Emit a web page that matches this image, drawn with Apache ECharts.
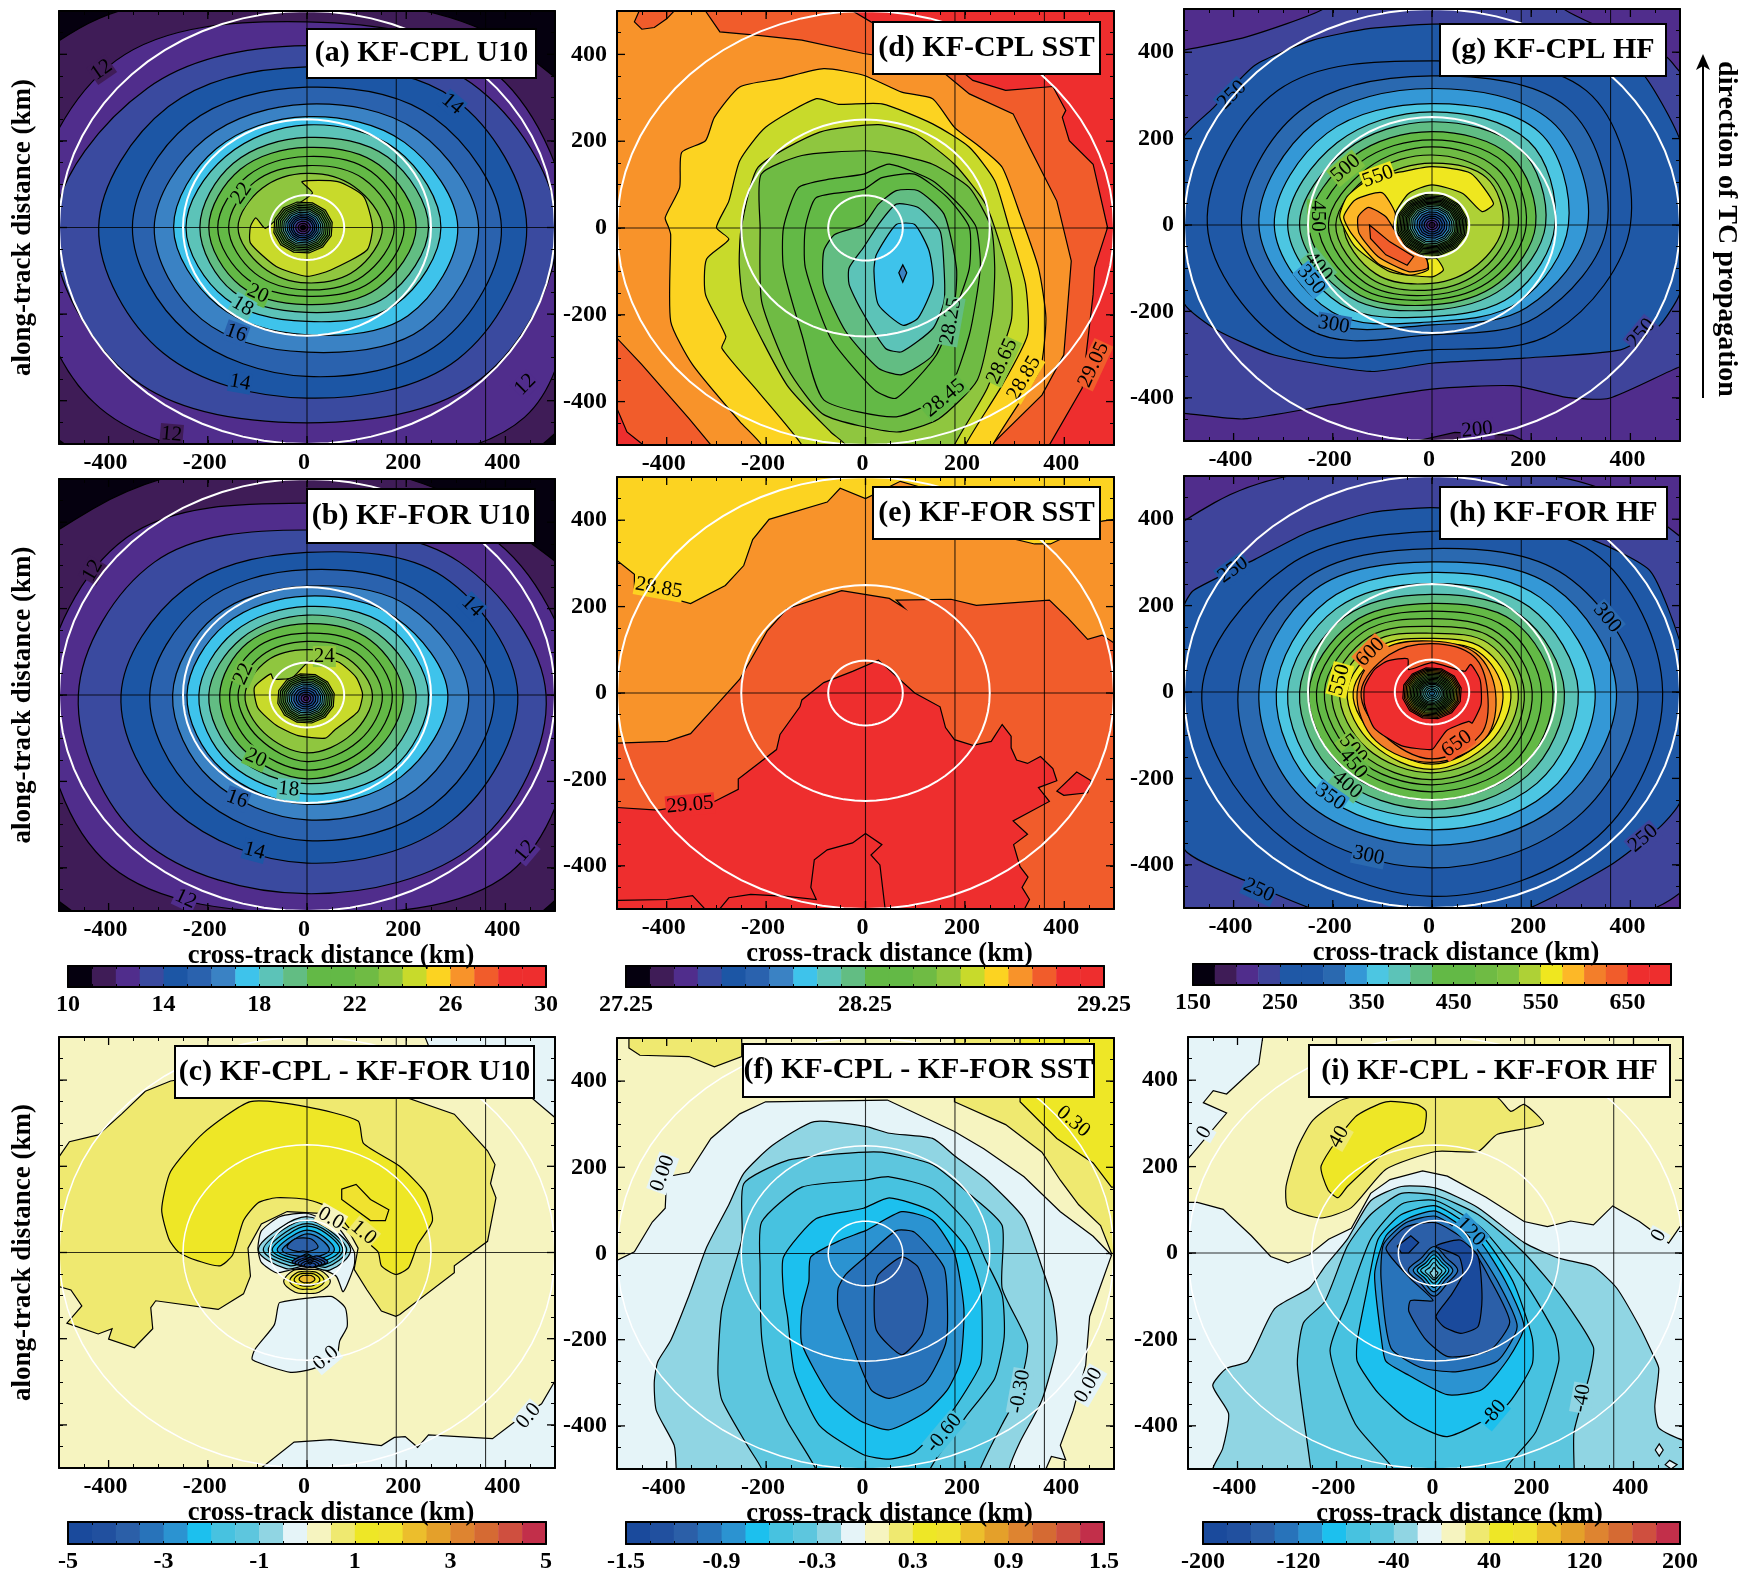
<!DOCTYPE html>
<html><head><meta charset="utf-8">
<style>html,body{margin:0;padding:0;background:#fff}#c{width:1743px;height:1579px}</style>
<script src="https://cdn.jsdelivr.net/npm/echarts@6/dist/echarts.min.js"></script>
</head><body><div id="c"></div>
<script>
// ---------- colour scales (one colour per colourbar band) ----------
const rainbow20 = ['#05000f','#3f1c57','#502d8c','#3a4a9f','#1c56a5','#2a62ae','#3a82c4','#3ec3eb','#5cc3b8','#62bd83','#63b946','#63b946','#6fbb44','#8fc63f','#c8da2b','#fcd321','#f8932a','#f15c2b','#ee2e2e','#ee2e2e'];
const rainbow22 = ['#05000f','#3f1c57','#502d8c','#3f449b','#1f58a6','#1f58a6','#2a69b0','#3498d6','#4cc6e2','#5cc3b8','#60bd84','#63b946','#63b946','#6fbb44','#7fc241','#aed136','#efe71f','#fdb827','#f37e2a','#f15c2b','#ee2e2e','#ee2e2e'];
const diverging20 = ['#1a4a9c','#21509f','#2b5fa8','#2873ba','#2b93d1','#1cc0ee','#47c2e0','#5dc6de','#90d5e3','#e5f4f8','#f6f4c0','#efe970','#eee726','#f0e22f','#ecbe2c','#e4a02a','#de8430','#d56a33','#cf4f3f','#c22f4a'];

// ---------- contour outlines (km) ----------
// ['r',band,cx,cy,E,NE,N,NW,W,SW,S,SE]  radii by direction, smooth
// ['c',band,cx,cy,radius]               near-circular ring
// ['p',band,x,y,x,y,...]                outline, lightly smoothed
// ['j',band,x,y,x,y,...]                outline, jagged
const contours_a = [
['j',0,-600,-600,600,-600,600,600,-600,600],
['r',1,0,0,700,590,530,650,800,700,700,690],
['r',2,0,0,530,520,475,545,560,590,540,620],
['r',3,0,0,505,470,420,455,510,495,451,495],
['r',4,0,0,443,420,371,395,420,410,394,430],
['r',5,0,0,392,360,324,338,352,342,344,378],
['r',6,0,0,346,315,285,290,308,300,288,330],
['r',7,0,0,304,278,256,258,269,254,248,288],
['r',8,0,0,270,255,237,232,244,232,217,252],
['r',9,0,0,245,230,208,210,216,210,196,226],
['r',10,0,0,220,205,185,190,198,190,178,200],
['r',11,0,0,196,183,164,169,180,169,159,180],
['r',12,0,0,176,160,143,149,158,149,144,159],
['r',13,0,0,152,134,125,128,139,128,128,139],
['p',14,-10,106,62,106,114,72,132,2,121,-52,48,-98,0,-113,-62,-90,-114,-36,-114,2,-103,22,-84,-2,-48,33,11,79],
['c',13,-8,0,60],['c',12,-8,0,56],['c',11,-8,0,52],['c',10,-8,0,48],['c',9,-8,0,44],['c',8,-8,0,40],['c',7,-8,0,36],['c',6,-8,0,32],['c',5,-8,0,28],['c',4,-8,0,24],['c',3,-8,0,20],['c',2,-8,0,15],['c',1,-8,0,10],['c',0,-8,0,5]
];
const labels_a = [['12',-414,364,35,1],['14',293,285,-40,4],['22',-132,79,55,11],['20',-99,-153,-25,10],['18',-130,-182,-30,8],['16',-143,-244,-20,5],['14',-135,-358,-10,4],['12',440,-363,45,2],['12',-273,-478,-5,1]];

const contours_b = [
['j',0,-600,-600,600,-600,600,600,-600,600],
['r',1,0,0,700,560,540,610,800,690,700,690],
['r',2,0,0,540,520,444,515,530,560,505,580],
['r',3,0,0,482,435,382,435,461,472,460,485],
['r',4,0,0,425,388,330,348,375,378,389,412],
['r',5,0,0,377,330,290,300,317,320,337,360],
['r',6,0,0,326,290,252,260,271,275,289,310],
['r',7,0,0,284,253,229,232,242,243,253,268],
['r',8,0,0,245,227,205,207,218,222,229,242],
['r',9,0,0,220,201,185,186,198,201,205,216],
['r',10,0,0,194,180,165,170,176,180,194,190],
['r',11,0,0,172,160,143,150,156,160,174,170],
['r',12,0,0,152,139,124,129,139,139,154,149],
['r',13,0,0,132,118,105,113,125,123,134,128],
['p',14,4,77,62,77,99,41,112,2,103,-38,55,-82,37,-100,-18,-94,-62,-70,-99,-30,-106,18,-73,49,-68,37,-30,40],
['c',13,-2,-8,58],['c',12,-2,-8,54],['c',11,-2,-8,50],['c',10,-2,-8,46],['c',9,-2,-8,42],['c',8,-2,-8,38],['c',7,-2,-8,34],['c',6,-2,-8,30],['c',5,-2,-8,25],['c',4,-2,-8,20],['c',3,-2,-8,15],['c',2,-2,-8,10],['c',1,-2,-8,5]
];
const labels_b = [['12',-432,288,60,1],['14',333,205,-45,4],['22',-128,49,65,12],['24',35,89,0,13],['20',-103,-146,-25,10],['18',-37,-218,-5,8],['16',-141,-241,-20,5],['14',-106,-361,-15,4],['12',440,-361,50,2],['12',-245,-472,-25,2]];

const contours_c = [
['j',10,-600,-600,600,-600,600,600,-600,600],
['j',9,-92,-500,-26,-440,48,-434,150,-448,176,-429,198,-427,223,-452,245,-423,374,-432,421,-391,473,-351,500,-298,540,-298,540,-540,-92,-540],
['j',9,238,500,245,480,350,420,454,358,500,313,540,313,540,540,238,540],
['p',9,-55,-116,48,-102,77,-128,81,-172,66,-205,59,-245,11,-270,-33,-278,-110,-249,-105,-225,-66,-168,-59,-128],
['j',11,-500,222,-479,257,-421,273,-374,321,-326,374,-275,398,-150,420,100,400,297,321,364,236,379,204,370,160,381,127,364,26,297,-31,297,-47,187,-144,179,-148,150,-136,121,-87,95,-39,103,10,84,50,26,91,-40,95,-92,66,-119,10,-114,-55,-128,-96,-179,-132,-305,-112,-315,-128,-311,-177,-348,-221,-400,-201,-393,-177,-421,-189,-484,-164,-454,-124,-476,-87,-500,-79,-540,-79,-540,222],
['p',12,-293,99,-275,188,-209,277,-114,350,0,338,103,305,114,253,187,200,238,139,253,74,223,18,205,-35,179,-51,150,-31,143,2,84,58,55,99,0,123,-62,127,-99,115,-128,74,-150,-6,-176,-31,-231,-15,-260,2,-278,30],
['j',13,70,147,99,158,128,123,165,99,158,74,128,74,70,123],
['p',9,-99,10,-92,50,-55,83,0,91,62,58,95,2,95,-31,73,-91,59,-55,20,-35,-30,-40,-62,-47,-92,-23],
['r',11,0,-68,47,38,28,38,47,34,27,34],
['r',12,0,-66,35,28,21,28,35,25,19,25],
['r',13,0,-64,26,20,15,20,26,18,14,18],
['r',14,0,-62,16,12,9,12,16,11,8,11],
['r',8,0,5,88,72,78,75,98,60,35,65],
['r',7,0,5,80,65,70,68,88,50,28,55],
['r',6,0,5,72,60,62,60,78,42,22,48],
['r',5,0,5,66,55,56,53,70,35,16,38],
['r',4,0,5,55,46,47,45,60,28,12,30],
['r',3,0,5,45,38,38,36,50,20,8,22],
['r',2,-8,12,30,26,22,26,32,14,8,14],
['r',1,6,-22,36,20,10,20,36,14,6,14],
['r',2,6,-24,30,16,8,16,30,12,5,12],
['r',1,6,-26,24,14,6,14,24,10,4,10],
['r',1,6,-28,18,11,4,11,18,8,3,8],
['r',1,6,-30,12,8,3,8,12,6,2,6]
];
const labels_c = [['0.0',48,79,-30,10],['1.0',114,46,-40,11],['0.0',38,-245,40,9],['0.0',447,-379,50,9]];

const contours_d = [
['j',18,-600,-600,600,-600,600,600,-600,600],
['j',17,-26,500,11,475,135,417,216,340,282,317,377,326,403,271,396,255,410,201,458,147,487,1,461,-92,458,-153,447,-261,436,-369,370,-500,370,-540,-420,-540,-447,-500,-480,-470,-500,-416,-540,-416,-540,540,-26,540],
['j',16,-322,500,-293,452,-216,444,-128,433,-4,402,135,379,209,309,297,263,330,186,385,62,414,-76,399,-292,355,-385,253,-500,253,-540,-311,-540,-311,-500,-355,-439,-450,-315,-500,-254,-540,-254,-540,540,-322,540],
['j',17,-465,475,-450,458,-425,462,-400,482,-385,500,-440,540],
['p',15,-84,367,-4,352,73,313,135,298,179,232,231,186,275,140,311,32,348,-92,363,-207,352,-323,311,-400,256,-500,256,-530,-209,-530,-209,-500,-253,-446,-348,-315,-392,-215,-392,-15,-396,1,-403,24,-374,93,-370,174,-322,201,-304,255,-253,325,-172,344],
['p',14,-99,298,-55,285,33,286,135,240,209,186,260,109,289,1,322,-130,326,-246,275,-362,201,-500,201,-530,-128,-530,-128,-500,-216,-377,-289,-277,-281,-250,-322,-153,-320,-72,-275,-26,-300,1,-275,62,-253,155,-201,232],
['p',13,-216,140,-92,221,26,238,99,217,179,147,238,62,260,1,293,-130,293,-215,245,-369,179,-500,179,-530,-40,-530,-40,-500,-70,-470,-158,-362,-245,-169,-254,-84,-250,1],
['p',12,-212,1,-210,124,-128,167,-4,178,62,169,135,147,209,93,253,1,260,-92,255,-200,225,-350,147,-440,62,-470,-84,-430,-157,-323,-209,-169],
['p',11,-165,1,-135,93,-70,113,-4,124,48,147,135,109,194,47,223,1,231,-92,209,-246,165,-377,62,-435,-84,-396,-128,-246,-165,-92],
['p',10,-121,1,-99,70,-4,89,33,116,99,124,165,70,209,1,209,-92,187,-169,143,-292,62,-392,18,-373,-70,-254,-121,-92],
['p',9,-84,-53,-62,-15,-4,8,26,55,62,86,106,86,158,32,183,-92,179,-169,136,-292,73,-338,26,-323,-40,-238,-84,-130],
['p',8,-33,-92,-4,-45,26,8,62,55,106,47,150,-7,158,-92,158,-169,136,-231,73,-285,40,-277,-11,-184,-33,-130],
['p',7,22,-61,62,8,99,8,128,-53,136,-130,106,-207,75,-224,26,-177,17,-99],
['j',6,75,-85,83,-103,75,-125,67,-103]
];
const labels_d = [['28.25',172,-215,80,9],['28.45',159,-392,40,11],['28.65',275,-307,65,13],['28.85',319,-346,60,15],['29.05',459,-315,65,17]];

const contours_e = [
['j',17,-600,-600,600,-600,600,600,-600,600],
['j',16,-500,-116,-399,-112,-352,-94,-300,-28,-253,32,-198,143,-158,195,-48,237,48,219,77,198,62,215,172,217,223,203,370,215,407,174,447,124,476,134,500,116,540,116,540,540,-540,540,-540,-116],
['j',15,-500,307,-465,275,-465,243,-352,207,-282,249,-245,295,-227,355,-194,402,-77,442,-51,474,0,450,70,490,106,478,250,370,340,345,372,345,400,360,476,398,500,402,540,402,540,540,-540,540,-540,307],
['j',18,-500,-265,-418,-271,-304,-251,-256,-223,-256,-199,-179,-131,-172,-96,-132,-32,-128,-16,-84,24,-26,50,26,76,99,0,150,-32,161,-80,179,-108,216,-121,253,-112,275,-73,293,-100,293,-127,304,-155,326,-163,352,-147,377,-175,385,-203,348,-219,370,-251,297,-296,326,-327,298,-351,311,-402,327,-426,315,-450,330,-478,319,-502,319,-540,-540,-540,-540,-265],
['j',18,385,-227,425,-183,454,-203,447,-231,399,-237],
['j',19,-540,-480,-498,-480,-399,-478,-348,-469,-319,-505,-297,-505,-275,-474,-231,-466,-158,-471,-99,-478,-110,-450,-103,-386,-77,-363,-26,-347,0,-325,33,-351,11,-375,29,-398,40,-505,40,-540,-540,-540]
];
const labels_e = [['28.85',-416,243,-10,15],['29.05',-353,-259,5,18]];

const contours_f = [
['j',10,-600,-600,600,-600,600,600,-600,600],
['j',11,-476,477,-454,460,-355,457,-304,433,-249,457,-249,540,-476,540],
['j',11,179,352,282,299,355,235,392,170,429,113,473,65,495,0,540,0,540,540,179,540],
['j',12,311,352,385,267,458,210,495,154,540,154,540,540,311,540],
['j',9,-500,-16,-465,4,-429,73,-403,105,-400,178,-355,188,-311,267,-253,324,-201,352,44,356,179,283,238,243,319,178,392,97,458,40,495,-4,451,-146,443,-259,418,-364,392,-445,403,-479,374,-471,363,-500,363,-540,-540,-540,-540,-16],
['p',8,-381,-500,-385,-445,-421,-364,-425,-299,-418,-251,-392,-202,-355,-97,-319,16,-275,113,-245,186,-187,251,-103,306,0,295,48,279,135,267,179,227,245,170,319,81,355,-32,377,-113,385,-210,355,-340,311,-437,289,-500,289,-540,-381,-540],
['p',7,-209,-500,-238,-445,-289,-340,-297,-275,-289,-129,-249,32,-245,162,-160,215,-55,231,33,235,135,206,209,138,275,65,275,-81,326,-210,304,-332,275,-396,231,-500,231,-540,-209,-540],
['p',6,-212,-32,-209,73,-128,154,-4,170,48,178,135,150,209,65,242,-16,275,-97,279,-194,260,-290,201,-380,130,-500,130,-540,-100,-540,-100,-500,-157,-390,-194,-290,-209,-194],
['p',5,-165,-89,-165,-8,-99,81,-4,105,48,129,135,97,201,16,231,-81,235,-194,231,-259,172,-370,99,-461,48,-477,-4,-467,-92,-400,-143,-275,-157,-146],
['p',4,-114,-65,-110,-8,-48,32,0,53,73,97,135,77,179,0,198,-129,191,-251,165,-316,121,-368,48,-409,-11,-388,-70,-332,-128,-210,-128,-129],
['p',3,-55,-81,-40,-49,0,-8,62,53,99,49,158,-32,165,-129,161,-210,121,-299,48,-336,11,-316,-33,-194,-55,-129],
['p',2,18,-81,26,-49,73,-8,106,-32,125,-105,114,-186,73,-235,22,-178]
];
const labels_f = [['0.00',-408,186,70,9],['0.30',418,306,-40,12],['-0.30',311,-320,80,8],['-0.60',158,-417,50,6],['0.00',449,-306,60,9]];

const contours_g = [
['j',2,-600,-600,600,-600,600,600,-600,600],
['j',1,-31,-500,46,-480,163,-487,186,-500,186,-540,-31,-540],
['p',3,-500,405,-372,436,-217,501,-217,540,300,540,264,501,473,389,500,355,540,330,540,-320,500,-328,357,-401,271,-399,163,-372,0,-380,-202,-416,-380,-449,-500,-436,-540,-436,-540,405],
['p',4,-500,204,-442,270,-357,370,-240,428,-124,455,0,465,147,463,302,420,419,358,500,197,527,19,500,-158,457,-235,380,-289,186,-308,0,-320,-124,-339,-318,-301,-434,-243,-500,-181,-543,19],
['r',5,0,0,400,440,380,440,453,400,289,350],
['r',6,0,0,353,385,345,375,384,345,254,300],
['r',7,0,0,314,340,316,335,349,310,231,270],
['r',8,0,0,275,305,281,300,318,285,224,250],
['r',9,0,0,248,275,262,270,291,260,212,230],
['r',10,0,0,229,250,239,245,267,235,197,205],
['r',11,0,0,209,225,216,225,248,220,185,190],
['r',12,0,0,190,205,197,205,229,205,173,175],
['r',13,0,0,174,185,181,185,209,190,162,160],
['r',14,0,0,155,165,162,170,194,175,150,145],
['r',15,0,0,143,155,143,150,178,160,135,130],
['p',16,-62,123,0,135,78,120,124,50,101,31,62,73,0,93,-47,73,-74,27,-78,-19,-31,-81,8,-77,23,-104,0,-120,-85,-108,-155,-50,-186,19,-171,66,-124,108],
['p',17,-101,75,-74,27,-78,-19,-12,-77,-8,-104,-47,-116,-109,-89,-163,-19,-178,19,-155,58],
['p',18,-128,41,-93,19,-71,-19,-12,-77,-9,-100,-47,-108,-109,-73,-147,-19,-149,19],
['j',19,-126,0,-85,-39,-37,-73,-50,-93,-93,-69,-124,-31],
['c',14,0,0,72],['c',14,0,0,69],['c',13,0,0,66],['c',13,0,0,63],['c',12,0,0,60],['c',12,0,0,57],['c',11,0,0,54],['c',11,0,0,51],['c',10,0,0,48],['c',9,0,0,44],['c',8,0,0,40],['c',7,0,0,36],['c',6,0,0,31],['c',5,0,0,26],['c',4,0,0,21],['c',3,0,0,16],['c',2,0,0,11],['c',1,0,0,6]
];
const labels_g = [['250',-403,301,45,4],['500',-174,131,40,14],['550',-109,112,20,16],['450',-231,21,-90,12],['400',-229,-96,-50,10],['350',-244,-127,-50,7],['300',-198,-231,-10,6],['250',422,-251,50,3],['200',91,-474,5,2]];

const contours_h = [
['j',2,-600,-600,600,-600,600,600,-600,600],
['r',3,0,0,700,600,520,620,800,800,520,680],
['p',4,-500,199,-481,235,-357,307,-248,371,-124,415,0,427,147,411,326,351,440,280,500,116,530,-50,500,-255,457,-315,357,-403,186,-505,47,-530,-217,-510,-380,-435,-500,-363,-540,-100],
['r',5,0,0,465,458,372,412,464,453,473,473],
['r',6,0,0,415,381,332,366,391,407,407,412],
['r',7,0,0,372,345,301,335,349,360,355,366],
['r',8,0,0,329,309,277,299,314,324,319,330],
['r',9,0,0,295,278,251,273,291,299,291,299],
['r',10,0,0,267,252,226,247,267,273,271,273],
['r',11,0,0,244,232,205,227,248,252,251,252],
['r',12,0,0,221,211,187,211,233,232,231,232],
['r',13,0,0,202,191,170,196,217,216,215,211],
['r',14,0,0,186,175,152,180,202,201,203,196],
['r',15,0,0,174,160,136,165,186,185,187,180],
['r',16,0,0,159,144,124,149,171,170,179,165],
['r',17,0,0,143,132,112,134,159,155,167,152],
['r',18,0,0,128,126,118,139,151,160,163,152],
['r',19,0,0,112,118,112,122,143,139,155,139],
['p',20,-49,77,-47,52,0,68,66,48,78,64,97,28,99,-28,81,-72,74,-68,31,-88,12,-116,0,-133,-62,-124,-116,-84,-136,-28,-136,12,-116,52,-89,72],
['c',19,0,-3,60],['c',18,0,-3,57],['c',17,0,-3,54],['c',16,0,-3,51],['c',15,0,-3,48],['c',14,0,-3,45],['c',13,0,-3,42],['c',12,0,-3,39],['c',12,0,-3,36],['c',11,0,-3,33],['c',11,0,-3,30],['c',10,0,-3,27],['c',10,0,-3,24],['c',9,0,-3,21],['c',9,0,-3,17],['c',8,0,-3,13],['c',8,0,-3,9],['c',7,0,-3,5]
];
const labels_h = [['250',-401,283,35,4],['600',-124,92,45,18],['550',-186,28,75,16],['300',353,171,-50,6],['500',-159,-132,-50,14],['450',-159,-167,-50,12],['400',-171,-215,-40,10],['350',-205,-243,-35,7],['650',50,-120,35,19],['300',-128,-379,-12,6],['250',426,-339,40,3],['250',-349,-459,-25,4]];

const contours_i = [
['j',9,-600,-600,600,-600,600,600,-600,600],
['j',10,-349,540,-349,500,-357,437,-422,368,-449,376,-469,348,-422,324,-500,218,-540,218,-540,117,-481,117,-429,101,-372,40,-333,-8,-298,-23,-255,-4,-216,32,-170,57,-131,138,-92,170,-26,190,24,178,102,129,179,73,226,61,273,74,319,65,358,109,412,73,471,23,494,61,540,60,540,540],
['p',11,-298,105,-302,154,-279,243,-248,307,-186,356,0,390,125,360,152,328,179,344,218,299,125,275,86,235,1,235,-100,194,-170,105,-232,81],
['p',12,-100,350,-38,344,-19,328,-26,279,-100,235,-178,154,-197,128,-217,146,-231,202,-162,315],
['p',8,-450,-307,-422,-267,-380,-251,-325,-129,-255,-81,-224,-32,-178,32,-131,121,-69,154,1,150,86,105,179,24,249,-12,319,-32,366,-81,412,-170,436,-227,451,-267,443,-356,451,-405,500,-433,540,-433,540,-540,-440,-540,-450,-500,-430,-453,-418,-372],
['j',9,452,-442,460,-456,452,-470,444,-456],
['j',9,473,-480,488,-490,476,-500,464,-490],
['p',7,-252,-500,-279,-259,-267,-162,-224,-113,-178,16,-131,89,-69,138,1,133,86,89,179,0,257,-105,319,-218,311,-283,280,-413,280,-500,280,-540,-252,-540],
['p',6,-85,-500,-162,-396,-213,-227,-178,-113,-131,32,-69,113,1,121,94,57,179,-65,241,-186,249,-251,203,-413,141,-500,141,-540,-85,-540],
['p',5,-158,-202,-139,-89,-116,32,-69,89,1,109,94,40,156,-65,195,-194,195,-259,141,-356,24,-425,-54,-388,-116,-324,-158,-251],
['p',4,-108,-210,-123,-49,-100,40,-54,81,1,97,86,32,141,-65,179,-170,148,-243,94,-316,24,-328,-54,-283,-100,-251],
['p',3,-90,-220,-110,-60,-105,20,-60,70,1,85,70,30,125,-65,165,-170,125,-250,40,-275,-30,-265],
['p',2,-100,10,-60,60,1,70,65,25,110,-60,150,-160,110,-225,25,-240,-20,-200,-54,-135,-50,-110,-5,-110,-50,-60],
['p',0,1,-146,32,-97,55,-49,47,-8,1,16,50,30,86,-8,94,-105,86,-170,51,-186,16,-170],
['j',0,-77,16,-50,40,-34,24,-54,0,-69,0],
['r',3,-3,-40,48,38,55,38,52,40,60,40],
['r',4,-3,-40,38,30,45,30,42,32,50,32],
['r',5,-3,-40,30,24,36,24,34,26,40,26],
['r',6,-3,-40,24,18,28,18,27,20,30,20],
['r',7,-3,-42,16,12,20,12,18,14,20,14],
['r',8,-3,-46,8,6,12,6,8,7,12,7]
];
const labels_i = [['0',-467,279,60,9],['40',-195,269,60,11],['0',451,40,60,9],['120',71,49,-45,4],['-80',117,-371,50,5],['-40',296,-336,80,8]];

// ---------- axes and reference features ----------
const axisTickLabels = [-400,-200,0,200,400];
const guideCross = [0,180,360];
const guideAlong = [0];
const circleRadii = [75,250,500];

const cb_u10 = ['10','14','18','22','26','30'];
const cb_sst = ['27.25','28.25','29.25'];
const cb_hf = ['150','250','350','450','550','650'];
const cb_du10 = ['-5','-3','-1','1','3','5'];
const cb_dsst = ['-1.5','-0.9','-0.3','0.3','0.9','1.5'];
const cb_dhf = ['-200','-120','-40','40','120','200'];

// ---------- layout ----------
const FONT = '"Liberation Serif"';
const panels = [
 {rows:contours_a,labels:labels_a,pal:rainbow20,box:[59,11,555,444],yl:false,xn:false,yn:true,t:'(a) KF-CPL U10',tb:[307,29,536,78],cw:2},
 {rows:contours_b,labels:labels_b,pal:rainbow20,box:[59,479,555,911],yl:false,xn:true,yn:true,t:'(b) KF-FOR U10',tb:[307,489,535,543],cw:2},
 {rows:contours_c,labels:labels_c,pal:diverging20,box:[59,1037,555,1468],yl:false,xn:true,yn:true,t:'(c) KF-CPL - KF-FOR U10',tb:[175,1046,534,1098],cw:1.5},
 {rows:contours_d,labels:labels_d,pal:rainbow20,box:[617,11,1114,445],yl:true,xn:false,yn:false,t:'(d) KF-CPL SST',tb:[873,22,1100,74],cw:2},
 {rows:contours_e,labels:labels_e,pal:rainbow20,box:[617,477,1114,909],yl:true,xn:true,yn:false,t:'(e) KF-FOR SST',tb:[873,487,1100,539],cw:2},
 {rows:contours_f,labels:labels_f,pal:diverging20,box:[617,1038,1114,1469],yl:true,xn:true,yn:false,t:'(f) KF-CPL - KF-FOR SST',tb:[743,1044,1094,1097],cw:1.5},
 {rows:contours_g,labels:labels_g,pal:rainbow22,box:[1184,9,1680,441],yl:true,xn:false,yn:false,t:'(g) KF-CPL HF',tb:[1440,24,1666,76],cw:2},
 {rows:contours_h,labels:labels_h,pal:rainbow22,box:[1184,476,1680,908],yl:true,xn:true,yn:false,t:'(h) KF-FOR HF',tb:[1440,487,1667,539],cw:2},
 {rows:contours_i,labels:labels_i,pal:diverging20,box:[1188,1037,1683,1469],yl:true,xn:true,yn:false,t:'(i) KF-CPL - KF-FOR HF',tb:[1309,1045,1670,1097],cw:1.5}
];
const colorbars = [
 {pal:rainbow20,labels:cb_u10,every:4,box:[68,966,546,987]},
 {pal:rainbow20,labels:cb_sst,every:10,box:[626,966,1104,987]},
 {pal:rainbow22,labels:cb_hf,every:4,box:[1193,964,1671,985]},
 {pal:diverging20,labels:cb_du10,every:4,box:[68,1522,546,1544]},
 {pal:diverging20,labels:cb_dsst,every:4,box:[626,1522,1104,1544]},
 {pal:diverging20,labels:cb_dhf,every:4,box:[1203,1522,1680,1544]}
];

const grid=[],xAxis=[],yAxis=[],series=[],graphic=[];
const lineBlack={show:true,onZero:false,lineStyle:{color:'#000',width:2}};
const tickFont={fontFamily:FONT,fontWeight:'bold',fontSize:24,color:'#000'};

function outline(row){
  const kind=row[0], pts=[];
  if(kind==='r'){
    const n=row.length-4;
    for(let i=0;i<n;i++){const a=i*2*Math.PI/n;pts.push([row[2]+row[4+i]*Math.cos(a),row[3]+row[4+i]*Math.sin(a)]);}
  }else if(kind==='c'){
    for(let i=0;i<12;i++){const a=i*Math.PI/6+0.2;pts.push([row[2]+row[4]*Math.cos(a),row[3]+row[4]*Math.sin(a)]);}
  }else{
    for(let i=2;i<row.length;i+=2)pts.push([row[i],row[i+1]]);
  }
  return pts;
}

panels.forEach((p,k)=>{
  const [l,t,r,b]=p.box, g=grid.length, xi=xAxis.length, yi=yAxis.length;
  grid.push({left:l,top:t,width:r-l,height:b-t,show:false});
  xAxis.push({gridIndex:g,type:'value',min:-500,max:500,interval:50,position:'bottom',z:10,
    axisLine:lineBlack,axisTick:{show:true,inside:true,length:4,lineStyle:{color:'#000',width:1}},splitLine:{show:false},
    axisLabel:{show:true,customValues:axisTickLabels,margin:7,hideOverlap:false,padding:[0,6,0,0],...tickFont},
    name:p.xn?'cross-track distance (km)':'',nameLocation:'middle',nameGap:26,
    nameTextStyle:{fontFamily:FONT,fontWeight:'bold',fontSize:26.5,color:'#000',padding:[0,0,0,48]}});
  xAxis.push({gridIndex:g,type:'value',min:-500,max:500,interval:50,position:'top',z:10,
    axisLine:lineBlack,axisTick:{show:true,inside:true,length:4,lineStyle:{color:'#000',width:1}},splitLine:{show:false},axisLabel:{show:false}});
  yAxis.push({gridIndex:g,type:'value',min:-500,max:500,interval:50,position:'left',z:10,
    axisLine:lineBlack,axisTick:{show:true,inside:true,length:4,lineStyle:{color:'#000',width:1}},splitLine:{show:false},
    axisLabel:{show:p.yl,customValues:axisTickLabels,margin:10,hideOverlap:false,...tickFont},
    name:p.yn?'along-track distance (km)':'',nameLocation:'middle',nameGap:22,nameRotate:90,
    nameTextStyle:{fontFamily:FONT,fontWeight:'bold',fontSize:27,color:'#000'}});
  yAxis.push({gridIndex:g,type:'value',min:-500,max:500,interval:50,position:'right',z:10,
    axisLine:lineBlack,axisTick:{show:true,inside:true,length:4,lineStyle:{color:'#000',width:1}},splitLine:{show:false},axisLabel:{show:false}});

  // filled contour bands
  series.push({type:'custom',coordinateSystem:'cartesian2d',xAxisIndex:xi,yAxisIndex:yi,clip:true,silent:true,animation:false,z:2,
    data:p.rows.map((row,i)=>[i,row[1]]),
    renderItem(params,api){
      const row=p.rows[params.dataIndex];
      const points=outline(row).map(q=>api.coord(q));
      const smooth=row[0]==='r'?0.35:row[0]==='p'?0.2:0;
      return {type:'polygon',shape:{points,smooth},style:{fill:p.pal[row[1]],stroke:'#000',lineWidth:1.2}};
    }});

  // guide lines, white radius circles, long ticks and contour labels
  series.push({type:'custom',coordinateSystem:'cartesian2d',xAxisIndex:xi,yAxisIndex:yi,clip:true,silent:true,animation:false,z:3,
    data:[[0,0]],
    renderItem(params,api){
      const ch=[];
      const seg=(a,b,w,c)=>ch.push({type:'line',shape:{x1:a[0],y1:a[1],x2:b[0],y2:b[1]},style:{stroke:c||'#000',lineWidth:w}});
      guideCross.forEach(x=>seg(api.coord([x,-500]),api.coord([x,500]),1.1,'rgba(0,0,0,.8)'));
      guideAlong.forEach(y=>seg(api.coord([-500,y]),api.coord([500,y]),1.1,'rgba(0,0,0,.8)'));
      axisTickLabels.forEach(v=>{
        const pb=api.coord([v,-500]),pt=api.coord([v,500]),pl=api.coord([-500,v]),pr=api.coord([500,v]);
        seg(pb,[pb[0],pb[1]-8],1.3);seg(pt,[pt[0],pt[1]+8],1.3);seg(pl,[pl[0]+8,pl[1]],1.3);seg(pr,[pr[0]-8,pr[1]],1.3);
      });
      p.labels.forEach(lb=>{
        const c=api.coord([lb[1],lb[2]]);
        ch.push({type:'text',x:c[0],y:c[1],rotation:lb[3]*Math.PI/180,originX:0,originY:0,
          style:{text:lb[0],fill:'#000',font:'21px '+FONT,align:'center',verticalAlign:'middle',backgroundColor:p.pal[lb[4]],padding:[0,1]}});
      });
      circleRadii.forEach(rad=>{
        const pts=[];
        for(let i=0;i<=72;i++){const a=i*Math.PI/36;pts.push(api.coord([rad*Math.cos(a),rad*Math.sin(a)]));}
        ch.push({type:'polyline',shape:{points:pts},style:{stroke:'#fff',lineWidth:p.cw,fill:'none'}});
      });
      return {type:'group',children:ch};
    }});

  // panel title box
  const [a,c,d,e]=p.tb;
  graphic.push({type:'rect',z:30,x:a,y:c,shape:{width:d-a,height:e-c},style:{fill:'#fff',stroke:'#000',lineWidth:2}});
  graphic.push({type:'text',z:31,x:(a+d)/2,y:(c+e)/2,style:{text:p.t,font:'bold 30px '+FONT,fill:'#000',align:'center',verticalAlign:'middle'}});
});

colorbars.forEach(cb=>{
  const [l,t,r,b]=cb.box, g=grid.length, xi=xAxis.length, yi=yAxis.length, n=cb.pal.length;
  const at=cb.labels.map((_,i)=>i*cb.every);
  grid.push({left:l,top:t,width:r-l,height:b-t,show:false});
  xAxis.push({gridIndex:g,type:'value',min:0,max:n,interval:1,position:'bottom',z:10,axisLine:lineBlack,
    axisTick:{show:true,inside:true,length:3,lineStyle:{color:'#000',width:1}},splitLine:{show:false},
    axisLabel:{show:true,customValues:at,margin:6,hideOverlap:false,formatter:v=>cb.labels[v/cb.every],...tickFont}});
  xAxis.push({gridIndex:g,type:'value',min:0,max:n,interval:1,position:'top',z:10,axisLine:lineBlack,
    axisTick:{show:true,inside:true,length:3,lineStyle:{color:'#000',width:1}},splitLine:{show:false},axisLabel:{show:false}});
  yAxis.push({gridIndex:g,type:'value',min:0,max:1,position:'left',z:10,axisLine:lineBlack,axisTick:{show:false},splitLine:{show:false},axisLabel:{show:false}});
  yAxis.push({gridIndex:g,type:'value',min:0,max:1,position:'right',z:10,axisLine:lineBlack,axisTick:{show:false},splitLine:{show:false},axisLabel:{show:false}});
  series.push({type:'custom',coordinateSystem:'cartesian2d',xAxisIndex:xi,yAxisIndex:yi,silent:true,animation:false,z:2,
    data:cb.pal.map((c,i)=>[i,0]),
    renderItem(params,api){
      const i=params.dataIndex,a=api.coord([i,1]),z=api.coord([i+1,0]);
      return {type:'rect',shape:{x:a[0],y:a[1],width:z[0]-a[0]+.5,height:z[1]-a[1]},style:{fill:cb.pal[i]}};
    }});
});

// propagation arrow and caption
graphic.push({type:'line',z:30,shape:{x1:1703,y1:398,x2:1703,y2:66},style:{stroke:'#000',lineWidth:2}});
graphic.push({type:'polygon',z:30,shape:{points:[[1703,54],[1696,70],[1703,66],[1710,70]]},style:{fill:'#000'}});
graphic.push({type:'text',z:30,x:1726,y:229,rotation:-Math.PI/2,style:{text:'direction of TC propagation',font:'bold 28px '+FONT,fill:'#000',align:'center',verticalAlign:'middle'}});

const chart=echarts.init(document.getElementById('c'),null,{renderer:'canvas'});
chart.setOption({animation:false,backgroundColor:'#fff',grid,xAxis,yAxis,series,graphic});
</script></body></html>
